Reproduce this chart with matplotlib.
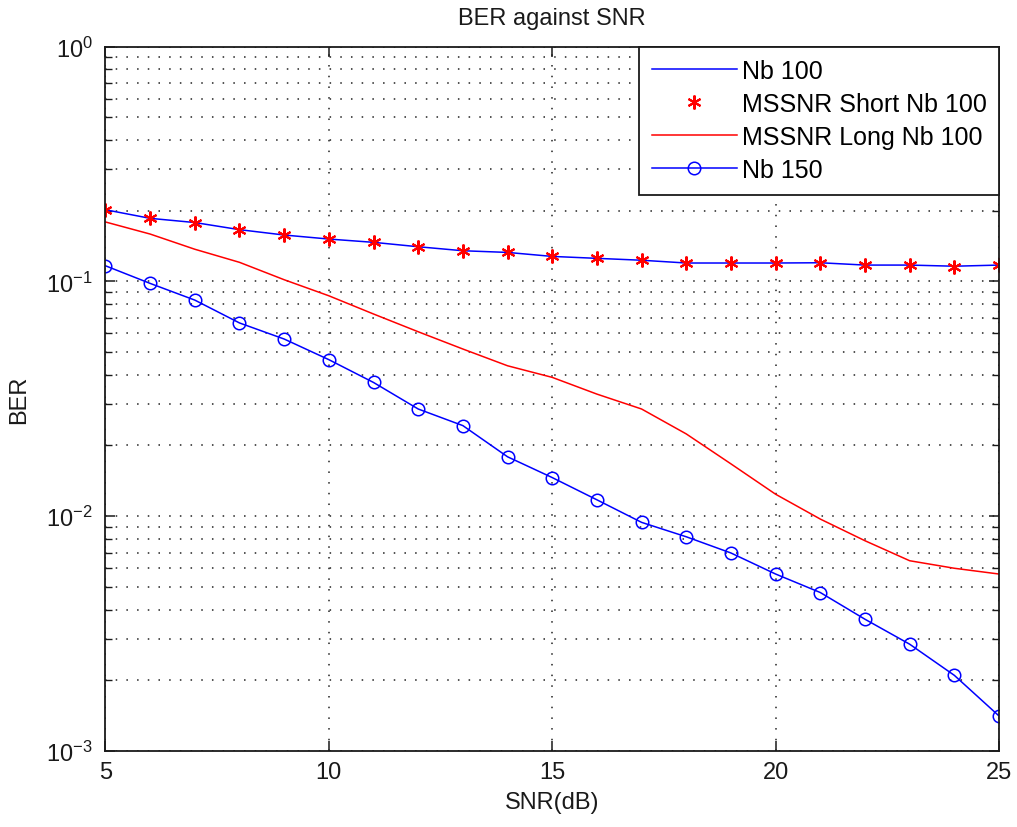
import numpy as np
import matplotlib.pyplot as plt
from matplotlib.ticker import LogLocator, NullFormatter

plt.rcParams['font.family'] = ['Liberation Sans', 'DejaVu Sans']
plt.rcParams['mathtext.fontset'] = 'custom'
plt.rcParams['mathtext.rm'] = 'Liberation Sans'

snr = np.arange(5, 26)

# BER curves, one value per SNR point (5..25 dB)
ber_nb100 = [0.2018, 0.1855, 0.178, 0.166, 0.1575, 0.1514, 0.1466, 0.1404, 0.135, 0.1328,
             0.1277, 0.1253, 0.123, 0.1197, 0.1197, 0.1197, 0.120, 0.1173, 0.1173, 0.1160, 0.1173]
ber_short = [0.2018, 0.1855, 0.178, 0.166, 0.1575, 0.1514, 0.1466, 0.1404, 0.135, 0.1328,
             0.1277, 0.1253, 0.123, 0.1197, 0.1197, 0.1197, 0.120, 0.1173, 0.1173, 0.1147, 0.1173]
ber_long = [0.179, 0.159, 0.137, 0.1205, 0.1016, 0.0868, 0.0726, 0.061, 0.0515, 0.0437,
            0.039, 0.0331, 0.0286, 0.0224, 0.0167, 0.0124, 0.00972, 0.00786, 0.00646, 0.0060, 0.00567]
ber_nb150 = [0.1165, 0.098, 0.0832, 0.0665, 0.0568, 0.0464, 0.0371, 0.0286, 0.0243, 0.0179,
             0.0146, 0.01174, 0.00941, 0.00817, 0.00697, 0.00567, 0.00473, 0.00364, 0.00285, 0.0021, 0.00141]

fs = 17
ink = '#1a1a1a'

fig = plt.figure(figsize=(10.17, 8.28), dpi=100)
ax = fig.add_axes([0.1037, 0.0918, 0.8786, 0.8508])

ax.semilogy(snr, ber_nb100, color='blue', lw=1.1, label='Nb 100')
ax.semilogy(snr, ber_short, color='red', ls='none', marker=(6, 2, 0), ms=10, mew=1.5,
            label='MSSNR Short Nb 100')
ax.semilogy(snr, ber_long, color='red', lw=1.1, label='MSSNR Long Nb 100')
ax.semilogy(snr, ber_nb150, color='blue', lw=1.1, marker='o', ms=9, mfc='none', mew=1.1,
            label='Nb 150')

ax.set_xlim(5, 25)
ax.set_ylim(1e-3, 1)
ax.set_xticks([5, 10, 15, 20, 25])
ax.yaxis.set_major_locator(LogLocator(base=10, numticks=10))
ax.yaxis.set_minor_locator(LogLocator(base=10, subs=np.arange(2, 10), numticks=10))
ax.yaxis.set_minor_formatter(NullFormatter())

# dotted grid, major on x, major+minor on y
ax.grid(True, which='major', color='#222222', ls=(0, (1, 6)), lw=1.1)
ax.grid(True, which='minor', axis='y', color='#222222', ls=(0, (1, 6)), lw=1.1)
ax.tick_params(which='both', direction='in', top=True, right=True, labelsize=fs, colors=ink)
ax.tick_params(which='major', length=7, width=1.1)
ax.tick_params(which='minor', length=5, width=1.0)
ax.tick_params(axis='x', pad=7)
ax.tick_params(axis='y', pad=9)
for s in ax.spines.values():
    s.set_linewidth(1.3)
    s.set_color(ink)

ax.set_title('BER against SNR', fontsize=fs, color=ink, pad=16)
ax.set_xlabel('SNR(dB)', fontsize=fs, color=ink, labelpad=6)
ax.set_ylabel('BER', fontsize=fs, color=ink, labelpad=12)

leg = ax.legend(loc='upper right', fontsize=18, fancybox=False, edgecolor=ink,
                framealpha=1, borderaxespad=0, handlelength=3.4, borderpad=0.5,
                labelspacing=0.36, handletextpad=0.2)
leg.get_frame().set_linewidth(1.3)

fig.savefig('out.png', dpi=100)
